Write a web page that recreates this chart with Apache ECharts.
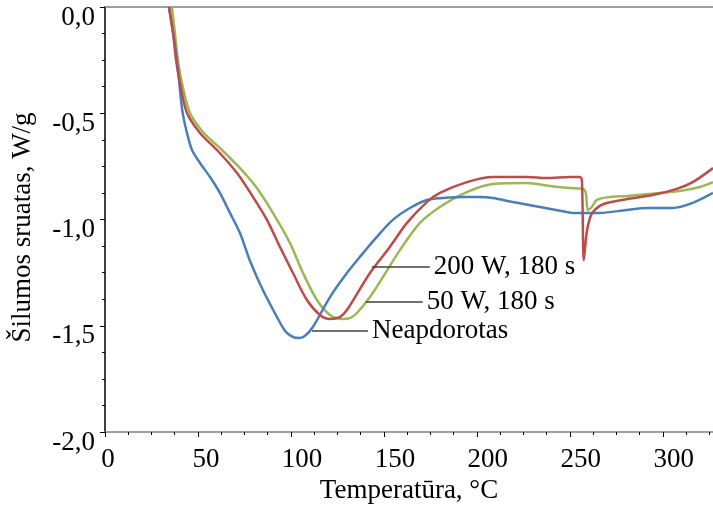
<!DOCTYPE html>
<html>
<head>
<meta charset="utf-8">
<script src="https://cdn.jsdelivr.net/npm/echarts@6/dist/echarts.min.js"></script>
<style>
  html, body { margin: 0; padding: 0; background: #fff; }
  #chart { width: 713px; height: 508px; }
</style>
</head>
<body>
<div id="chart"></div>
<script>
// DSC heat-flow curves: [temperature °C, heat flow W/g]
const untreated = [
  [34.4, 0.00], [36.6, -0.122], [38.7, -0.249], [40.9, -0.438], [42.0, -0.510],
  [44.1, -0.593], [46.8, -0.673], [51.1, -0.734], [56.5, -0.800], [61.8, -0.875],
  [67.2, -0.969], [72.6, -1.064], [78.0, -1.195], [84.9, -1.332], [92.5, -1.459],
  [96.5, -1.520], [99.5, -1.545], [103.8, -1.558], [107.5, -1.548], [111.8, -1.506],
  [121.0, -1.365], [130.1, -1.252], [137.1, -1.176], [146.2, -1.082], [154.8, -1.002],
  [164.0, -0.946], [173.1, -0.908], [181.7, -0.899], [193.5, -0.894], [201.6, -0.894],
  [208.6, -0.899], [219.4, -0.918], [233.9, -0.941], [248.4, -0.965], [251.6, -0.969],
  [266.1, -0.969], [280.6, -0.955], [291.4, -0.946], [305.4, -0.946], [316.1, -0.922],
  [327.0, -0.875]
];
const w50s180 = [
  [36.0, 0.00], [37.6, -0.122], [39.2, -0.249], [41.4, -0.358], [45.7, -0.499],
  [52.7, -0.588], [61.8, -0.664], [72.6, -0.758], [81.7, -0.852], [90.3, -0.969],
  [99.5, -1.111], [106.5, -1.252], [114.0, -1.379], [121.0, -1.449], [128.0, -1.468],
  [131.7, -1.464], [135.5, -1.440], [142.5, -1.365], [149.5, -1.271], [158.6, -1.144],
  [169.4, -1.016], [180.1, -0.941], [194.6, -0.871], [208.6, -0.833], [226.9, -0.828],
  [239.2, -0.842], [250.0, -0.852], [257.0, -0.856], [258.6, -0.875], [259.7, -0.955],
  [261.8, -0.941], [264.5, -0.908], [271.5, -0.894], [280.6, -0.889], [298.4, -0.875],
  [309.1, -0.866], [319.9, -0.847], [327.0, -0.824]
];
const w200s180 = [
  [34.4, 0.00], [36.6, -0.122], [38.2, -0.249], [40.3, -0.358], [44.1, -0.499],
  [51.1, -0.593], [60.2, -0.673], [71.0, -0.781], [79.6, -0.894], [87.1, -1.002],
  [94.1, -1.129], [101.1, -1.252], [108.6, -1.379], [115.6, -1.449], [121.0, -1.468],
  [126.3, -1.459], [130.1, -1.426], [142.5, -1.252], [153.2, -1.129], [162.4, -1.016],
  [173.1, -0.918], [180.1, -0.875], [194.6, -0.824], [208.6, -0.800], [226.9, -0.800],
  [237.6, -0.805], [250.0, -0.800], [255.4, -0.800], [256.5, -0.814], [257.5, -1.191],
  [259.1, -1.059], [260.8, -0.993], [262.4, -0.965], [266.1, -0.936], [269.9, -0.922],
  [280.6, -0.904], [294.6, -0.885], [307.5, -0.856], [316.1, -0.824], [327.0, -0.758]
];

const seriesNames = ['Neapdorotas', '50 W, 180 s', '200 W, 180 s'];
// leader lines for the curve labels: [x from, x to, y] in data units
const leaderNeap = [111.3, 141.4, -1.525];
const leader50 = [140.3, 170.9, -1.388];
const leader200 = [143.5, 174.7, -1.224];

const yTicks = [-2, -1.5, -1, -0.5, 0];
const xTicks = [0, 50, 100, 150, 200, 250, 300];

const FONT = 'Liberation Serif, Times New Roman, serif';
const FS = 27;

function leader(seg, text) {
  return {
    silent: true,
    symbol: 'none',
    animation: false,
    lineStyle: { color: '#404040', width: 1.5, type: 'solid' },
    label: {
      show: true, position: 'end', distance: 4, formatter: text,
      color: '#000', fontFamily: FONT, fontSize: FS
    },
    data: [[{ coord: [seg[0], seg[2]] }, { coord: [seg[1], seg[2]] }]]
  };
}

// x tick labels sit a little right of their ticks, more so for wider numbers
const xLabelRich = {
  d1: { fontFamily: FONT, fontSize: FS, color: '#000', padding: [0, 0, 0, 6] },
  d2: { fontFamily: FONT, fontSize: FS, color: '#000', padding: [0, 0, 0, 16] },
  d3: { fontFamily: FONT, fontSize: FS, color: '#000', padding: [0, 0, 0, 22] }
};
// y tick labels sit slightly below their ticks
const yLabelRich = {
  v: { fontFamily: FONT, fontSize: FS, color: '#000', padding: [21, 0, 0, 0] }
};

const chart = echarts.init(document.getElementById('chart'));
chart.setOption({
  animation: false,
  backgroundColor: '#fff',
  grid: {
    left: 105, right: 0, top: 7, bottom: 76,
    outerBoundsMode: 'none', containLabel: false
  },
  xAxis: [
    {
      type: 'value', min: 0, max: 327, interval: 50,
      name: 'Temperatūra, °C', nameLocation: 'middle', nameGap: 45,
      nameTextStyle: { color: '#000', fontFamily: FONT, fontSize: FS },
      axisLine: { show: true, onZero: false, lineStyle: { color: '#808080', width: 1.5 } },
      axisTick: { show: true, length: 5, lineStyle: { color: '#000' } },
      minorTick: { show: true, splitNumber: 4, length: 3, lineStyle: { color: '#000' } },
      splitLine: { show: false },
      axisLabel: {
        color: '#000', fontFamily: FONT, fontSize: FS, margin: 14,
        showMaxLabel: false,
        rich: xLabelRich,
        formatter: v => {
          if (!xTicks.includes(v)) return '';
          const s = String(v);
          return '{d' + s.length + '|' + s + '}';
        }
      }
    },
    {
      // plain frame line along the top of the plot
      type: 'value', position: 'top', min: 0, max: 327,
      axisLine: { show: true, onZero: false, lineStyle: { color: '#808080', width: 1.5 } },
      axisTick: { show: false }, axisLabel: { show: false }, splitLine: { show: false }
    }
  ],
  yAxis: {
    type: 'value', min: -2, max: 0, interval: 0.5,
    name: 'Šilumos sruatas, W/g', nameLocation: 'middle', nameGap: 69,
    nameTextStyle: { color: '#000', fontFamily: FONT, fontSize: FS, padding: [0, 16, 0, 0] },
    axisLine: { show: true, onZero: false, lineStyle: { color: '#000', width: 1.5 } },
    axisTick: { show: true, length: 5, lineStyle: { color: '#000' } },
    minorTick: { show: true, splitNumber: 4, length: 3, lineStyle: { color: '#000' } },
    splitLine: { show: false },
    axisLabel: {
      color: '#000', fontFamily: FONT, fontSize: FS, margin: 10,
      rich: yLabelRich,
      formatter: v => (yTicks.includes(v) ? '{v|' + v.toFixed(1).replace('.', ',') + '}' : '')
    }
  },
  series: [
    {
      name: seriesNames[0], type: 'line', data: untreated, showSymbol: false,
      smooth: 0.3, clip: true, z: 3,
      lineStyle: { color: '#4A7EBB', width: 2.5 },
      markLine: leader(leaderNeap, seriesNames[0])
    },
    {
      name: seriesNames[1], type: 'line', data: w50s180, showSymbol: false,
      smooth: 0.3, clip: true, z: 2,
      lineStyle: { color: '#98B954', width: 2.5 },
      markLine: leader(leader50, seriesNames[1])
    },
    {
      name: seriesNames[2], type: 'line', data: w200s180, showSymbol: false,
      smooth: 0.3, clip: true, z: 4,
      lineStyle: { color: '#BE4B48', width: 2.5 },
      markLine: leader(leader200, seriesNames[2])
    }
  ]
});
</script>
</body>
</html>
